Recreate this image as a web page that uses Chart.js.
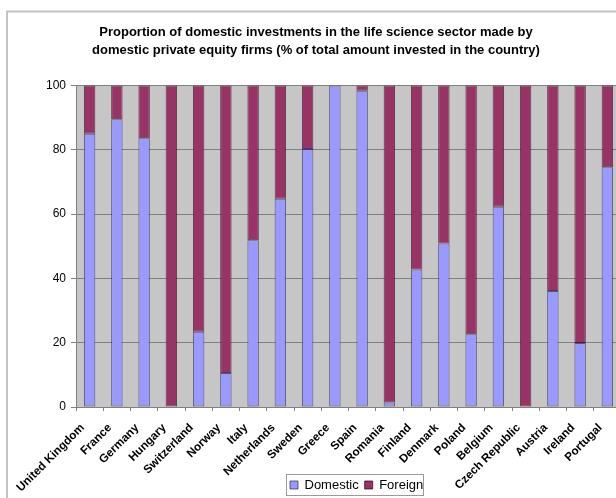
<!DOCTYPE html>
<html>
<head>
<meta charset="utf-8">
<script src="https://cdn.jsdelivr.net/npm/chart.js@4/dist/chart.umd.min.js"></script>
<style>
  html, body { margin: 0; padding: 0; background: #ffffff; overflow: hidden; }
  #wrap { position: absolute; left: 0; top: 0; width: 640px; height: 530px; }
</style>
</head>
<body>
<div id="wrap"><canvas id="c" width="640" height="530"></canvas></div>
<script>
const titleLines = [
  'Proportion of domestic investments in the life science sector made by',
  'domestic private equity firms (% of total amount invested in the country)'
];
const categories = ['United Kingdom', 'France', 'Germany', 'Hungary', 'Switzerland', 'Norway', 'Italy',
  'Netherlands', 'Sweden', 'Greece', 'Spain', 'Romania', 'Finland', 'Denmark', 'Poland', 'Belgium',
  'Czech Republic', 'Austria', 'Ireland', 'Portugal'];
const domestic = [85, 89.5, 83.6, 0, 23.4, 10.6, 51.9, 64.8, 80.3, 100, 98.4, 1.4, 42.8, 50.9, 22.6, 62.3, 0, 36.1, 19.9, 74.6];
const foreign = [15, 10.5, 16.4, 100, 76.6, 89.4, 48.1, 35.2, 19.7, 0, 1.6, 98.6, 57.2, 49.1, 77.4, 37.7, 100, 63.9, 80.1, 25.4];
const yTicks = [0, 20, 40, 60, 80, 100];

Chart.defaults.font.family = '"Liberation Sans", Arial, sans-serif';
Chart.defaults.color = '#000000';

const decor = {
  id: 'decor',
  afterLayout(chart) {
    const t = chart.titleBlock;
    if (t) { t.left = 0; t.right = 632; t.width = 632; }
    const l = chart.legend;
    if (l) { l.left = 284; l.right = 684; l.width = 400; const h = l.height; l.top = 472.5; l.bottom = 472.5 + h; }
  },
  beforeDraw(chart) {
    const {ctx, chartArea: a} = chart;
    ctx.save();
    ctx.fillStyle = '#ffffff';
    ctx.fillRect(0, 0, chart.width, chart.height);
    ctx.strokeStyle = '#c4c4c4';
    ctx.lineWidth = 2;
    ctx.strokeRect(7, 11.5, 1000, 1000);
    ctx.fillStyle = '#c6c6c6';
    ctx.fillRect(a.left, a.top, a.right - a.left, a.bottom - a.top);
    ctx.restore();
  },
  afterDraw(chart) {
    const l = chart.legend;
    if (!l || !l.legendHitBoxes || !l.legendHitBoxes.length) return;
    const hb = l.legendHitBoxes;
    const left = Math.min(...hb.map(h => h.left)) - 4.5;
    const right = Math.max(...hb.map(h => h.left + h.width)) - 0.5;
    const top = Math.min(...hb.map(h => h.top)) - 4.5;
    const bottom = Math.max(...hb.map(h => h.top + h.height)) + 3;
    const ctx = chart.ctx;
    ctx.save();
    ctx.strokeStyle = '#9a9a9a';
    ctx.lineWidth = 1;
    ctx.strokeRect(Math.round(left) + 0.5, Math.round(top) + 0.5, Math.round(right - left), Math.round(bottom - top));
    ctx.restore();
  }
};

new Chart(document.getElementById('c'), {
  type: 'bar',
  data: {
    labels: categories,
    datasets: [
      { label: 'Domestic', data: domestic, backgroundColor: '#9999ff', borderColor: 'rgba(40,40,80,0.7)', borderWidth: 1, borderSkipped: false, barPercentage: 0.42, categoryPercentage: 1 },
      { label: 'Foreign', data: foreign, backgroundColor: '#993366', borderColor: 'rgba(40,0,20,0.7)', borderWidth: 1, borderSkipped: false, barPercentage: 0.42, categoryPercentage: 1 }
    ]
  },
  options: {
    responsive: false,
    animation: false,
    layout: { padding: { left: 6, right: 19, top: 0, bottom: 0 } },
    plugins: {
      title: {
        display: true,
        text: titleLines,
        color: '#000000',
        font: { size: 13, weight: 'bold', lineHeight: 1.33 },
        padding: { top: 24, bottom: 27 }
      },
      legend: {
        display: true,
        position: 'bottom',
        align: 'start',
        labels: { boxWidth: 8, boxHeight: 8, padding: 6, color: '#000000', font: { size: 13 } }
      },
      tooltip: { enabled: false }
    },
    scales: {
      x: {
        stacked: true,
        grid: { display: true, drawOnChartArea: false, drawTicks: true, tickLength: 4, color: '#808080', offset: true },
        border: { display: true, color: '#808080' },
        ticks: { autoSkip: false, maxRotation: 45, minRotation: 45, padding: 10, labelOffset: -7, color: '#000000', font: { size: 11.7, weight: 'bold' } },
        afterFit(s) { s.height = 94; }
      },
      y: {
        stacked: true,
        min: 0,
        max: 100,
        afterBuildTicks(s) { s.ticks = yTicks.map(v => ({ value: v })); },
        ticks: { padding: 5, color: '#000000', font: { size: 12 } },
        grid: { color: '#808080', tickLength: 5, tickColor: '#808080' },
        border: { display: true, color: '#808080' },
        afterFit(s) { s.width = 70; }
      }
    }
  },
  plugins: [decor]
});
</script>
</body>
</html>
